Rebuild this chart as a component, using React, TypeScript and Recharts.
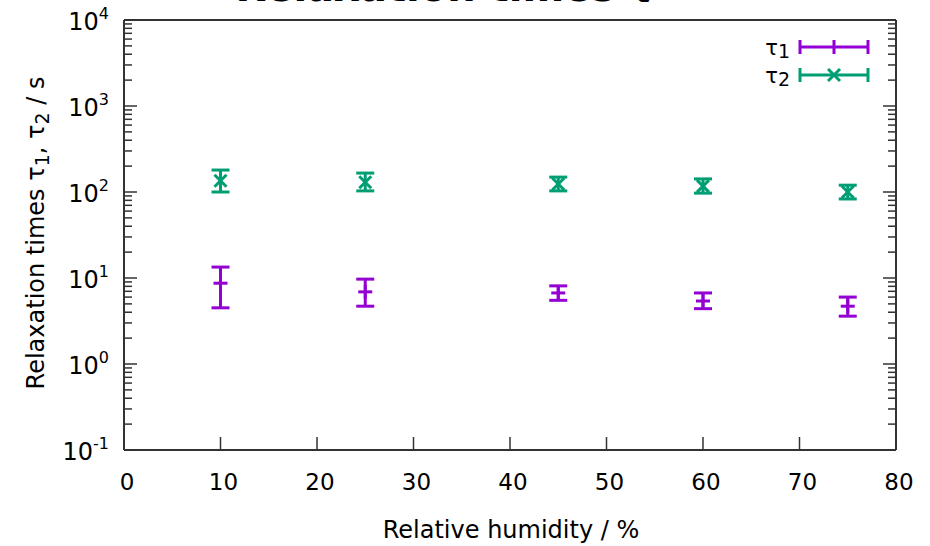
import React from 'react';
import { ComposedChart, Scatter, XAxis, YAxis, ErrorBar } from 'recharts';

const humidity = [10, 25, 45, 60, 75];
const tau1 = [8.7, 6.9, 6.7, 5.4, 4.7];
const tau1Low = [4.5, 4.7, 5.5, 4.4, 3.6];
const tau1High = [13.4, 9.7, 8.1, 6.7, 6.0];
const tau2 = [135, 130, 124, 117, 100];
const tau2Low = [100, 103, 103, 97, 83];
const tau2High = [180, 166, 149, 142, 120];

const xTicks = [0, 10, 20, 30, 40, 50, 60, 70, 80];
const yDecades = [0.1, 1, 10, 100, 1000, 10000];
const yExponents = ['-1', '0', '1', '2', '3', '4'];
const minorSteps = [2, 3, 4, 5, 6, 7, 8, 9];
const seriesSubs = ['1', '2'];

const yTicks: number[] = [];
yDecades.forEach((d, i) => {
  yTicks.push(d);
  if (i < yDecades.length - 1) minorSteps.forEach((m) => yTicks.push(d * m));
});

const PURPLE = '#9400D3';
const GREEN = '#009E73';
const AXIS = '#333333';
const FONT = '"DejaVu Sans", sans-serif';
const MAJOR = 13;
const MINOR = 8;

const data1 = humidity.map((h, i) => ({ x: h, y: tau1[i], err: [tau1[i] - tau1Low[i], tau1High[i] - tau1[i]] }));
const data2 = humidity.map((h, i) => ({ x: h, y: tau2[i], err: [tau2[i] - tau2Low[i], tau2High[i] - tau2[i]] }));

const isDecade = (v: number) => yDecades.indexOf(v) >= 0;

const LeftTick = (props: any) => {
  const { x, y, payload } = props;
  const v = payload.value;
  const idx = yDecades.indexOf(v);
  const len = idx >= 0 ? MAJOR : MINOR;
  return (
    <g>
      <line x1={x} y1={y} x2={x + len} y2={y} stroke={AXIS} strokeWidth={1.5} />
      {idx >= 0 && (
        <text x={x - 15} y={y + 10} textAnchor="end" fontFamily={FONT} fontSize={24} fill="#000">
          10<tspan dy={-11} fontSize={16}>{yExponents[idx]}</tspan>
        </text>
      )}
    </g>
  );
};

const RightTick = (props: any) => {
  const { x, y, payload } = props;
  const len = isDecade(payload.value) ? MAJOR : MINOR;
  return <line x1={x} y1={y} x2={x - len} y2={y} stroke={AXIS} strokeWidth={1.5} />;
};

const BottomTick = (props: any) => {
  const { x, y, payload } = props;
  return (
    <g>
      <line x1={x} y1={y} x2={x} y2={y - MAJOR} stroke={AXIS} strokeWidth={1.5} />
      <text x={x + 3} y={y + 40} textAnchor="middle" fontFamily={FONT} fontSize={23} fill="#000">
        {payload.value}
      </text>
    </g>
  );
};

const TopTick = (props: any) => {
  const { x, y } = props;
  return <line x1={x} y1={y} x2={x} y2={y + MAJOR} stroke={AXIS} strokeWidth={1.5} />;
};

const PlusShape = (props: any) => {
  const { cx, cy } = props;
  return (
    <g>
      <line x1={cx - 7} y1={cy} x2={cx + 7} y2={cy} stroke={PURPLE} strokeWidth={3} />
      <line x1={cx} y1={cy - 7} x2={cx} y2={cy + 7} stroke={PURPLE} strokeWidth={3} />
    </g>
  );
};

const CrossShape = (props: any) => {
  const { cx, cy } = props;
  return (
    <g>
      <line x1={cx - 6} y1={cy - 6} x2={cx + 6} y2={cy + 6} stroke={GREEN} strokeWidth={3} />
      <line x1={cx - 6} y1={cy + 6} x2={cx + 6} y2={cy - 6} stroke={GREEN} strokeWidth={3} />
    </g>
  );
};

const LegendBlock = () => {
  const colors = [PURPLE, GREEN];
  return (
    <g>
      {seriesSubs.map((sub, i) => {
        const cy = 47 + i * 28;
        const c = colors[i];
        const x0 = 800;
        const x1 = 868;
        const xm = (x0 + x1) / 2;
        return (
          <g key={i}>
            <text x={790} y={cy + 8} textAnchor="end" fontFamily={FONT} fontSize={21} fill="#000">
              τ<tspan dy={3} fontSize={19}>{sub}</tspan>
            </text>
            <line x1={x0} y1={cy} x2={x1} y2={cy} stroke={c} strokeWidth={3} />
            <line x1={x0} y1={cy - 7} x2={x0} y2={cy + 7} stroke={c} strokeWidth={3} />
            <line x1={x1} y1={cy - 7} x2={x1} y2={cy + 7} stroke={c} strokeWidth={3} />
            {i === 1 ? (
              <g>
                <line x1={xm - 6} y1={cy - 6} x2={xm + 6} y2={cy + 6} stroke={c} strokeWidth={3} />
                <line x1={xm - 6} y1={cy + 6} x2={xm + 6} y2={cy - 6} stroke={c} strokeWidth={3} />
              </g>
            ) : (
              <line x1={xm} y1={cy - 7} x2={xm} y2={cy + 7} stroke={c} strokeWidth={3} />
            )}
          </g>
        );
      })}
    </g>
  );
};

export default function App() {
  return (
    <div style={{ position: 'absolute', left: 0, top: 0, width: 930, height: 546, background: '#fff' }}>
      <ComposedChart width={930} height={546} margin={{ top: 0, right: 0, bottom: 0, left: 0 }}>
        <XAxis
          xAxisId={0}
          type="number"
          dataKey="x"
          domain={[0, 80]}
          ticks={xTicks}
          orientation="bottom"
          height={96}
          tickSize={0}
          tickMargin={0}
          tickLine={false}
          axisLine={{ stroke: AXIS, strokeWidth: 2 }}
          tick={<BottomTick />}
          interval={0}
          label={() => (
            <text x={511} y={538} textAnchor="middle" fontFamily={FONT} fontSize={24} fill="#000">
              Relative humidity / %
            </text>
          )}
        />
        <XAxis
          xAxisId="top"
          type="number"
          domain={[0, 80]}
          ticks={xTicks}
          orientation="top"
          height={20}
          tickSize={0}
          tickMargin={0}
          tickLine={false}
          axisLine={{ stroke: AXIS, strokeWidth: 2 }}
          tick={<TopTick />}
          interval={0}
          label={() => (
            <text x={445} y={1} textAnchor="middle" fontFamily={FONT} fontWeight="bold" fontSize={40} fill="#000">
              Relaxation times τ
            </text>
          )}
        />
        <YAxis
          yAxisId={0}
          type="number"
          scale="log"
          domain={[0.1, 10000]}
          allowDataOverflow
          ticks={yTicks}
          orientation="left"
          width={124}
          tickSize={0}
          tickMargin={0}
          tickLine={false}
          axisLine={{ stroke: AXIS, strokeWidth: 2 }}
          tick={<LeftTick />}
          interval={0}
          label={() => (
            <text
              x={44}
              y={233}
              transform="rotate(-90 44 233)"
              textAnchor="middle"
              fontFamily={FONT}
              fontSize={24}
              fill="#000"
            >
              Relaxation times τ<tspan dy={5} fontSize={19}>1</tspan>
              <tspan dy={-5}>, τ</tspan>
              <tspan dy={5} fontSize={19}>2</tspan>
              <tspan dy={-5}> / s</tspan>
            </text>
          )}
        />
        <YAxis
          yAxisId="right"
          type="number"
          scale="log"
          domain={[0.1, 10000]}
          allowDataOverflow
          ticks={yTicks}
          orientation="right"
          width={34}
          tickSize={0}
          tickMargin={0}
          tickLine={false}
          axisLine={{ stroke: AXIS, strokeWidth: 2 }}
          tick={<RightTick />}
          interval={0}
          label={() => <LegendBlock />}
        />
        <Scatter name="τ1" data={data1} dataKey="y" shape={<PlusShape />} isAnimationActive={false} fill={PURPLE}>
          <ErrorBar dataKey="err" direction="y" width={9} stroke={PURPLE} strokeWidth={3} />
        </Scatter>
        <Scatter name="τ2" data={data2} dataKey="y" shape={<CrossShape />} isAnimationActive={false} fill={GREEN}>
          <ErrorBar dataKey="err" direction="y" width={9} stroke={GREEN} strokeWidth={3} />
        </Scatter>
      </ComposedChart>
    </div>
  );
}
